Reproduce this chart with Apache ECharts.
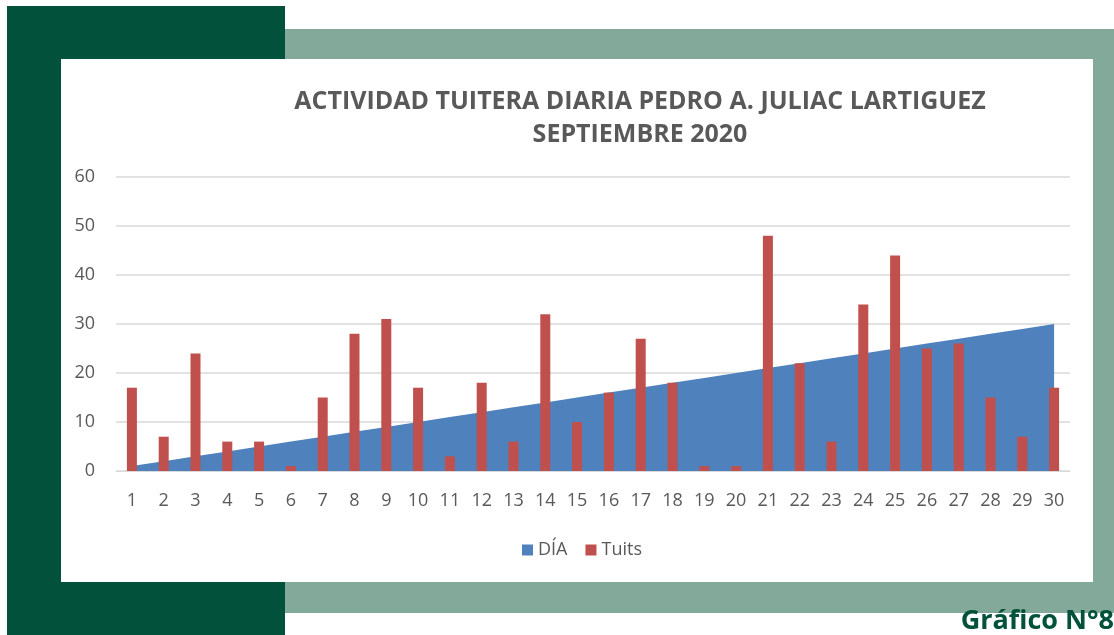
<!DOCTYPE html>
<html>
<head>
<meta charset="utf-8">
<script src="https://cdn.jsdelivr.net/npm/echarts@6/dist/echarts.min.js"></script>
<style>
  html, body { margin: 0; padding: 0; background: #fff; }
  #chart { width: 1114px; height: 635px; }
</style>
</head>
<body>
<div id="chart"></div>
<script>
// dias del mes
var dias = ['1','2','3','4','5','6','7','8','9','10','11','12','13','14','15','16','17','18','19','20','21','22','23','24','25','26','27','28','29','30']
// serie DÍA (numero de dia)
var diaValores = [1,2,3,4,5,6,7,8,9,10,11,12,13,14,15,16,17,18,19,20,21,22,23,24,25,26,27,28,29,30]
// tuits por dia
var tuits = [17,7,24,6,6,1,15,28,31,17,3,18,6,32,10,16,27,18,1,1,48,22,6,34,44,25,26,15,7,17]
var yTicks = [0, 10, 20, 30, 40, 50, 60]

var chart = echarts.init(document.getElementById('chart'))
var gris = '#595959'

var option = {
  animation: false,
  backgroundColor: '#fff',
  graphic: [
    // marcos decorativos
    { type: 'rect', z: -10, shape: { x: 7, y: 6, width: 278, height: 629 }, style: { fill: '#02513A' } },
    { type: 'rect', z: -10, shape: { x: 285, y: 29, width: 829, height: 584 }, style: { fill: '#82A99A' } },
    { type: 'rect', z: -5, shape: { x: 61, y: 59, width: 1032, height: 523 }, style: { fill: '#ffffff' } },
    {
      type: 'text', right: 0, top: 608, z: 10,
      style: { text: 'Gráfico N°8', fill: '#02513A', font: 'bold 27px "Open Sans", sans-serif' }
    }
  ],
  title: {
    text: 'ACTIVIDAD TUITERA DIARIA PEDRO A. JULIAC LARTIGUEZ\nSEPTIEMBRE 2020',
    left: 635,
    top: 80,
    textAlign: 'center',
    textStyle: { color: gris, fontSize: 25, fontWeight: 'bold', lineHeight: 33, fontFamily: 'Open Sans' }
  },
  legend: {
    top: 536,
    left: 517,
    itemWidth: 11,
    itemHeight: 11,
    itemGap: 18,
    icon: 'rect',
    textStyle: { color: gris, fontSize: 18, fontFamily: 'Open Sans' },
    data: ['DÍA', 'Tuits']
  },
  grid: { left: 116, right: 44, top: 177, bottom: 164 },
  xAxis: {
    type: 'category',
    data: dias,
    axisTick: { show: false },
    axisLine: { lineStyle: { color: '#d9d9d9' } },
    axisLabel: { color: gris, fontSize: 18, margin: 21, interval: 0, fontFamily: 'Open Sans' }
  },
  yAxis: {
    type: 'value',
    min: yTicks[0],
    max: yTicks[yTicks.length - 1],
    interval: 10,
    axisLine: { show: false },
    axisTick: { show: false },
    axisLabel: { color: gris, fontSize: 18, margin: 21, fontFamily: 'Open Sans' },
    splitLine: { lineStyle: { color: '#d9d9d9', width: 1.5 } }
  },
  series: [
    {
      name: 'DÍA',
      type: 'line',
      data: diaValores,
      symbol: 'none',
      z: 1,
      lineStyle: { width: 0 },
      itemStyle: { color: '#4F81BD' },
      areaStyle: { color: '#4F81BD', opacity: 1 }
    },
    {
      name: 'Tuits',
      type: 'bar',
      data: tuits,
      barWidth: 10,
      z: 5,
      itemStyle: { color: '#C0504D' }
    }
  ]
}
chart.setOption(option)
</script>
</body>
</html>
